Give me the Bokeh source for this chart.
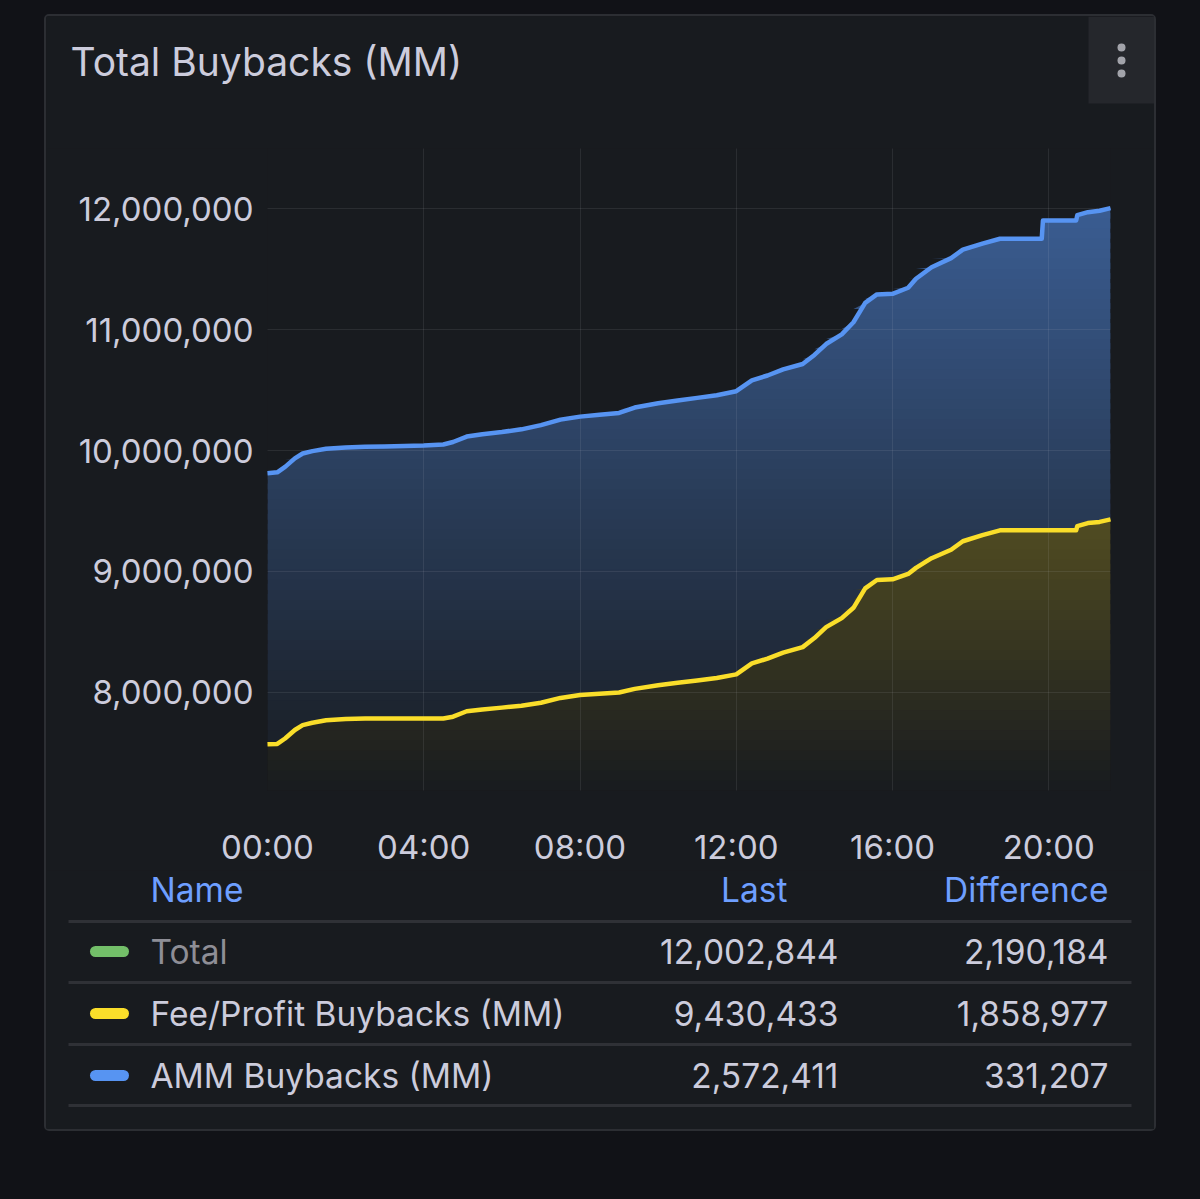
import numpy as np
from bokeh.plotting import figure
from bokeh.layouts import column
from bokeh.models import Range1d, FixedTicker, NumeralTickFormatter, GlobalInlineStyleSheet
from bokeh.core.properties import value
from bokeh.embed import file_html
from bokeh.resources import INLINE

# ---------------- data ----------------
TITLE = "Total Buybacks (MM)"

HOURS = [0.0, 0.25, 0.45, 0.7, 0.9, 1.15, 1.5, 2.0, 2.5, 3.0, 3.5, 4.0, 4.5, 4.75,
         5.1, 5.5, 6.0, 6.5, 7.0, 7.5, 8.0, 8.5, 9.0, 9.4, 10.0, 10.5, 11.0, 11.5,
         12.0, 12.4, 12.8, 13.2, 13.7, 14.0, 14.3, 14.7, 15.0, 15.3, 15.6, 16.0,
         16.4, 16.6, 17.0, 17.5, 17.8, 18.3, 18.75, 19.82, 19.85, 20.7, 20.73,
         21.0, 21.3, 21.58]

FEE_PROFIT = [7571456, 7575000, 7620000, 7690000, 7730000, 7750000, 7770000, 7780000,
              7785000, 7785000, 7785000, 7785000, 7785000, 7800000, 7845000, 7860000,
              7875000, 7890000, 7915000, 7955000, 7980000, 7990000, 8000000, 8030000,
              8060000, 8080000, 8100000, 8120000, 8150000, 8240000, 8280000, 8330000,
              8375000, 8450000, 8540000, 8615000, 8700000, 8860000, 8930000, 8935000,
              8980000, 9030000, 9110000, 9180000, 9250000, 9300000, 9340000, 9340000,
              9340000, 9340000, 9375000, 9400000, 9410000, 9430433]

AMM = [2241204, 2245000, 2245000, 2245000, 2245000, 2245000, 2245000, 2245000,
       2245000, 2248000, 2252000, 2256000, 2265000, 2270000, 2270000, 2275000,
       2278000, 2285000, 2295000, 2300000, 2300000, 2305000, 2310000, 2325000,
       2330000, 2333000, 2335000, 2337000, 2340000, 2340000, 2340000, 2340000,
       2340000, 2340000, 2340000, 2345000, 2360000, 2360000, 2360000, 2360000,
       2365000, 2390000, 2405000, 2410000, 2410000, 2410000, 2410000, 2410000,
       2560000, 2560000, 2570000, 2570000, 2572000, 2572411]

X_TICKS = [0, 4, 8, 12, 16, 20]
X_TICK_LABELS = ["00:00", "04:00", "08:00", "12:00", "16:00", "20:00"]
Y_TICKS = [8000000, 9000000, 10000000, 11000000, 12000000]

SERIES = ["Total", "Fee/Profit Buybacks (MM)", "AMM Buybacks (MM)"]
SERIES_COLORS = ["#73BF69", "#FADE2A", "#5794F2"]
LAST = [12002844, 9430433, 2572411]
DIFFERENCE = [2190184, 1858977, 331207]

# ---------------- style ----------------
PAGE_BG = "#111217"
PANEL_BG = "#181b1f"
TEXT = "#ccccdc"
FONT = value("Inter")
YMIN, YMAX = 7.19e6, 12.496e6
XMAX = 21.58
FS = "33.5px"


def blank_fig(height, y_top, y_bottom):
    f = figure(width=1108, height=height, x_range=Range1d(46, 1154),
               y_range=Range1d(y_bottom, y_top), x_axis_type=None, y_axis_type=None,
               toolbar_location=None, output_backend="svg", min_border=0,
               background_fill_color=PANEL_BG, border_fill_color=PANEL_BG,
               outline_line_color=None, frame_align=False)
    return f


# ---------------- header ----------------
header = blank_fig(132, 16, 148)
header.text(x=[70], y=[61], text=[TITLE], text_font=FONT, text_font_size="39px",
            text_color=TEXT, text_baseline="middle", text_align="left")
header.quad(left=[1088], right=[1154], top=[16], bottom=[103], fill_color="#25272c",
            line_color=None)
header.scatter(x=[1121, 1121, 1121], y=[47, 60, 73], size=8, marker="circle",
               fill_color="#a2a3aa", line_color=None)

# ---------------- chart ----------------
chart = figure(width=1108, height=722, x_range=Range1d(0, XMAX),
               y_range=Range1d(YMIN, YMAX), toolbar_location=None, output_backend="svg",
               min_border_left=221, min_border_right=44, min_border_top=0,
               min_border_bottom=80, background_fill_color=PANEL_BG,
               border_fill_color=PANEL_BG, outline_line_color=None, frame_align=False)

x = np.array(HOURS, dtype=float)
fee = np.array(FEE_PROFIT, dtype=float)
total = fee + np.array(AMM, dtype=float)


def blend(hexcol, a):
    c = [int(hexcol[i:i + 2], 16) for i in (1, 3, 5)]
    b = [int(PANEL_BG[i:i + 2], 16) for i in (1, 3, 5)]
    m = [round(bb + a * (cc - bb)) for cc, bb in zip(c, b)]
    return "#%02x%02x%02x" % tuple(m)


N = 64
edges = np.linspace(YMIN, YMAX, N + 1)
band = edges[1] - edges[0]
xs_l, ys_l, cols = [], [], []
for lo, hi in zip(edges[:-1], edges[1:]):
    a = 0.6 * ((lo + hi) / 2 - YMIN) / (YMAX - YMIN)
    top = hi + 0.6 * band
    for lower, upper, col in ((np.full_like(fee, lo), fee, SERIES_COLORS[1]),
                              (fee, total, SERIES_COLORS[2])):
        y1 = np.clip(lower, lo, top)
        y2 = np.clip(upper, lo, top)
        if np.all(y2 - y1 <= 0):
            continue
        xs_l.append(list(x) + list(x[::-1]))
        ys_l.append(list(y2) + list(y1[::-1]))
        cols.append(blend(col, a))

chart.patches(xs_l, ys_l, fill_color=cols, line_color=None)
chart.line(x, fee, line_color=SERIES_COLORS[1], line_width=4.5, line_join="round",
           level="annotation")
chart.line(x, total, line_color=SERIES_COLORS[2], line_width=4.5, line_join="round",
           level="annotation")

for ax in (chart.xaxis[0], chart.yaxis[0]):
    ax.axis_line_color = None
    ax.major_tick_line_color = None
    ax.minor_tick_line_color = None
    ax.major_tick_out = 0
    ax.major_tick_in = 0
    ax.major_label_text_color = TEXT
    ax.major_label_text_font = "Inter"
    ax.major_label_text_font_size = "33px"

chart.xaxis.ticker = FixedTicker(ticks=X_TICKS)
chart.xaxis.major_label_overrides = {t: l for t, l in zip(X_TICKS, X_TICK_LABELS)}
chart.xaxis.major_label_standoff = 36
chart.yaxis.ticker = FixedTicker(ticks=Y_TICKS)
chart.yaxis.formatter = NumeralTickFormatter(format="0,0")
chart.yaxis.major_label_standoff = 14
chart.grid.grid_line_color = TEXT
chart.grid.grid_line_alpha = 0.1
chart.grid.level = "guide"

# ---------------- legend table ----------------
table = blank_fig(259, 870, 1129)
table.text(x=[150], y=[889], text=["Name"], text_font=FONT, text_font_size=FS,
           text_color="#6e9fff", text_baseline="middle", text_align="left")
table.text(x=[787, 1108], y=[889, 889], text=["Last", "Difference"], text_font=FONT,
           text_font_size=FS, text_color="#6e9fff", text_baseline="middle",
           text_align="right")
sep_y = [921, 982, 1044, 1105]
table.segment(x0=[68] * 4, x1=[1131] * 4, y0=sep_y, y1=sep_y, line_color="#2f3136",
              line_width=3)
row_y = [951, 1013, 1075]
table.segment(x0=[95] * 3, x1=[123] * 3, y0=row_y, y1=row_y, line_color=SERIES_COLORS,
              line_width=11, line_cap="round")
name_colors = ["#8e8e96", TEXT, TEXT]
table.text(x=[150] * 3, y=row_y, text=SERIES, text_font=FONT, text_font_size=FS,
           text_color=name_colors, text_baseline="middle", text_align="left")
table.text(x=[838] * 3, y=row_y, text=[f"{v:,}" for v in LAST], text_font=FONT,
           text_font_size=FS, text_color=TEXT, text_baseline="middle",
           text_align="right")
table.text(x=[1108] * 3, y=row_y, text=[f"{v:,}" for v in DIFFERENCE], text_font=FONT,
           text_font_size=FS, text_color=TEXT, text_baseline="middle",
           text_align="right")

p = column(header, chart, table, margin=(16, 0, 0, 46),
           styles={"background-color": PANEL_BG, "outline": "2px solid #2c2e33",
                   "border-radius": "3px"},
           stylesheets=[GlobalInlineStyleSheet(
               css="html, body { background-color: #111217; }")])

open("out.html", "w").write(file_html(p, INLINE))
